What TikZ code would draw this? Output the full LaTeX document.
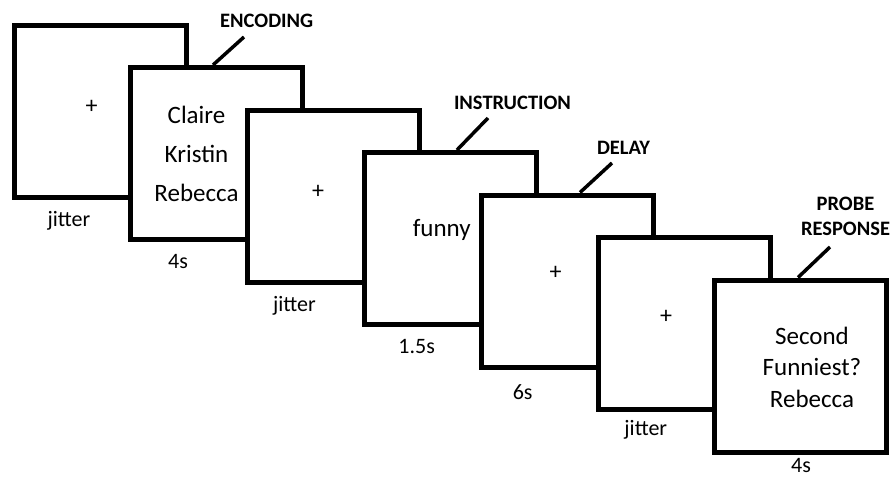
\documentclass[tikz,border=0pt]{standalone}
\usepackage{fontspec}
\setmainfont{Carlito}
\tikzset{
  screen/.style={draw, line width=5pt, fill=white, minimum width=172pt, minimum height=172pt, inner sep=0pt},
  stimtext/.style={align=center, font=\fontsize{25}{39}\selectfont, inner sep=0pt},
  fixcross/.style={font=\fontsize{24}{24}\selectfont, inner sep=0pt},
  durlabel/.style={font=\fontsize{22}{26}\selectfont, inner sep=0pt},
  phaselabel/.style={font=\fontsize{20.5}{25}\selectfont\bfseries, align=center, inner sep=0pt},
  phasetick/.style={line width=3.5pt},
}

\begin{document}
\begin{tikzpicture}[x=1pt, y=-1pt]
        \useasboundingbox (0,0) rectangle (891,479);

        % trial screens, back to front
        \node[screen] (s1) at (100,111) {};
        \node[fixcross] (c1) at (91.7,106.7) {+};
        \node[durlabel] (d1) at (69,221) {jitter};

        \node[screen] (s2) at (216.8,153.5) {};
        \node[stimtext] (w2) at (196.5,154) {Claire\\Kristin\\Rebecca};
        \node[durlabel] (d2) at (178,262) {4s};

        \node[screen] (s3) at (333.6,196) {};
        \node[fixcross] (c3) at (318,192) {+};
        \node[durlabel] (d3) at (294.5,306) {jitter};

        \node[screen] (s4) at (450.4,238.5) {};
        \node[stimtext] (w4) at (441.7,230) {funny};
        \node[durlabel] (d4) at (416.7,346.7) {1.5s};

        \node[screen] (s5) at (567.2,281) {};
        \node[fixcross] (c5) at (555.7,272.7) {+};
        \node[durlabel] (d5) at (522.7,391.7) {6s};

        \node[screen] (s6) at (684,323.5) {};
        \node[fixcross] (c6) at (666,317.3) {+};
        \node[durlabel] (d6) at (645.8,430) {jitter};

        \node[screen] (s7) at (800.8,366) {};
        \node[stimtext, font=\fontsize{25}{31.5}\selectfont] (w7) at (812,367) {Second\\Funniest?\\Rebecca};
        \node[durlabel] (d7) at (801,466) {4s};

        % phase labels
        \node[phaselabel] (p1) at (266.7,21) {ENCODING};
        \node[phaselabel] (p2) at (512.5,103) {INSTRUCTION};
        \node[phaselabel] (p3) at (623.5,148) {DELAY};
        \node[phaselabel] (p4) at (845.5,216.5) {PROBE\\RESPONSE};

        \coordinate (k1) at (244,37);
        \coordinate (k2) at (488,118);
        \coordinate (k3) at (612,163);
        \coordinate (k4) at (830,247);
        \draw[phasetick] ([xshift=-3.8pt]s2.north) -- (k1);
        \draw[phasetick] ([xshift=6.6pt]s4.north) -- (k2);
        \draw[phasetick] ([xshift=12.8pt]s5.north) -- (k3);
        \draw[phasetick] ([xshift=-2.8pt]s7.north) -- (k4);
    \end{tikzpicture}
\end{document}
